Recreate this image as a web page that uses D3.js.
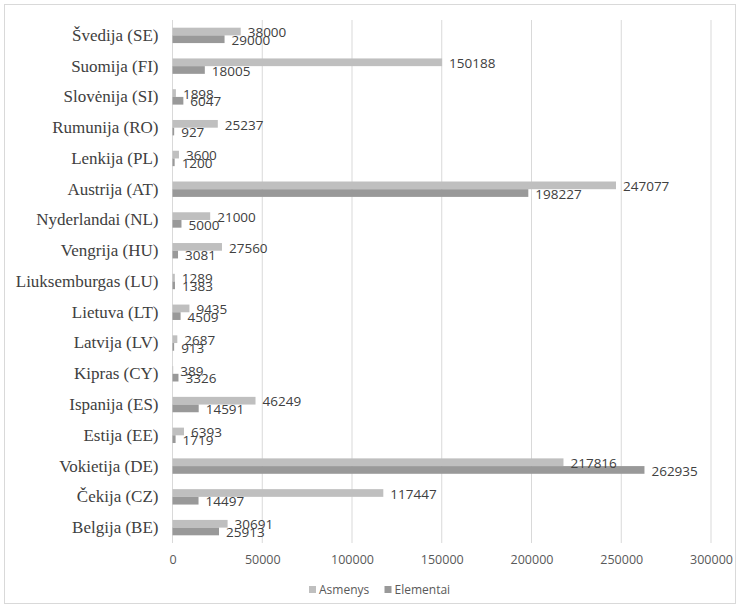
<!DOCTYPE html>
<html><head><meta charset="utf-8">
<script src="https://cdn.jsdelivr.net/npm/d3@7"></script>
<style>body{margin:0;background:#fff}svg{display:block}</style>
</head><body>
<script>
const categories = ["Švedija (SE)","Suomija (FI)","Slovėnija (SI)","Rumunija (RO)","Lenkija (PL)","Austrija (AT)","Nyderlandai (NL)","Vengrija (HU)","Liuksemburgas (LU)","Lietuva (LT)","Latvija (LV)","Kipras (CY)","Ispanija (ES)","Estija (EE)","Vokietija (DE)","Čekija (CZ)","Belgija (BE)"];
const asmenys = [38000,150188,1898,25237,3600,247077,21000,27560,1289,9435,2687,389,46249,6393,217816,117447,30691];
const elementai = [29000,18005,6047,927,1200,198227,5000,3081,1383,4509,913,3326,14591,1719,262935,14497,25913];
const seriesNames = ["Asmenys","Elementai"];
const tickValues = [0,50000,100000,150000,200000,250000,300000];
const colors = ["#bfbfbf","#999999"];

const W = 740, H = 608;
const svg = d3.select("body").append("svg").attr("width", W).attr("height", H);
svg.append("rect").attr("x",4.5).attr("y",4.5).attr("width",731).attr("height",599)
  .attr("fill","#fff").attr("stroke","#d9d9d9");

const x = d3.scaleLinear().domain([0,300000]).range([172.5,711]);
const y = d3.scaleBand().domain(categories).range([20,543]).padding(0);
const sub = d3.scaleBand().domain(seriesNames)
  .range([y.bandwidth()/2 - 7.7, y.bandwidth()/2 + 7.7]).padding(0);

// gridlines
svg.append("g").selectAll("line").data(tickValues).join("line")
  .attr("x1", d=>x(d)).attr("x2", d=>x(d)).attr("y1",20).attr("y2",543)
  .attr("stroke","#d9d9d9").attr("stroke-width",1);

// x axis labels
const xAxis = d3.axisBottom(x).tickValues(tickValues).tickSize(0).tickPadding(0).tickFormat(d3.format("d"));
const gx = svg.append("g").attr("transform","translate(0,555)").call(xAxis);
gx.select(".domain").remove();
gx.selectAll("text").attr("font-family","'Open Sans'").attr("font-size","12.5px").attr("fill","#595959").attr("dy","0.71em");

// y axis labels
const yAxis = d3.axisLeft(y).tickSize(0).tickPadding(14);
const gy = svg.append("g").attr("transform","translate(172.5,0)").call(yAxis);
gy.select(".domain").remove();
gy.selectAll("text").attr("font-family","'Liberation Serif'").attr("font-size","17px").attr("fill","#404040");

const data = categories.map((c,i)=>({cat:c, vals:[asmenys[i], elementai[i]]}));
const rows = svg.append("g").selectAll("g").data(data).join("g")
  .attr("transform", d=>`translate(0,${y(d.cat)})`);
rows.selectAll("rect").data(d=>d.vals.map((v,k)=>({v, s:seriesNames[k], k}))).join("rect")
  .attr("x", x(0)).attr("y", d=>sub(d.s)).attr("width", d=>x(d.v)-x(0)).attr("height", sub.bandwidth())
  .attr("fill", d=>colors[d.k]);
rows.selectAll("text").data(d=>d.vals.map((v,k)=>({v, s:seriesNames[k], k}))).join("text")
  .attr("x", d=>x(d.v)+7).attr("y", d=>sub(d.s)+sub.bandwidth()/2 + 1)
  .attr("dy","0.35em")
  .attr("font-family","'Open Sans'").attr("font-size","13.5px").attr("fill","#404040")
  .text(d=>d.v);

// legend
const legend = svg.append("g");
const lx = [309, 384.5];
seriesNames.forEach((s,k)=>{
  legend.append("rect").attr("x",lx[k]).attr("y",586).attr("width",7).attr("height",7).attr("fill",colors[k]);
  legend.append("text").attr("x",lx[k]+10).attr("y",594).attr("font-family","'Open Sans'")
    .attr("font-size","12px").attr("fill","#595959").text(s);
});
</script>
</body></html>
